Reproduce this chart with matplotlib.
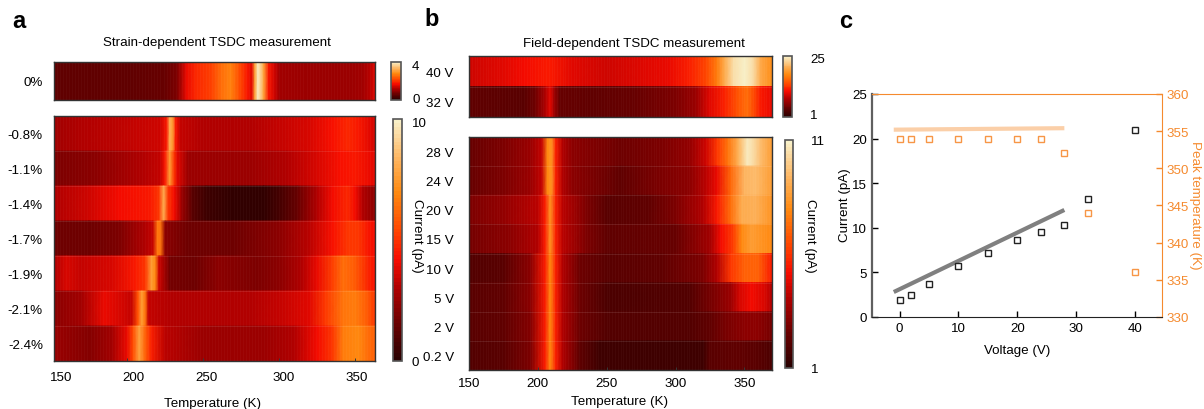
import numpy as np
import matplotlib
matplotlib.use('Agg')
import matplotlib.pyplot as plt
from matplotlib.colors import LinearSegmentedColormap, Normalize
from matplotlib.cm import ScalarMappable

plt.rcParams['font.family'] = ['Liberation Sans', 'DejaVu Sans']
plt.rcParams['font.size'] = 9.6

W, H = 1204, 410

# panel a, top strip (pA), temperature / current read at the visible features
a0_t = [152, 175, 200, 225, 233, 239, 245, 255, 262, 268, 274, 279, 282, 284, 286, 288, 290, 293, 297, 300, 320, 345, 355, 360, 363]
a0_i = [.55, .5, .55, .6, .8, 1.6, 1.9, 2.1, 2.5, 2.7, 2.2, 1.8, 1.5, 3.0, 3.9, 3.6, 3.0, 1.8, 1.4, 1.1, 1.0, 1.0, 1.1, 1.3, 1.5]

# panel a, bottom map, one row per strain
a08_t = [152, 170, 190, 205, 222, 226, 228, 230, 232, 235, 250, 280, 300, 320, 335, 345, 352, 360, 363]
a08_i = [2.8, 3.0, 3.2, 3.4, 3.5, 4.5, 8, 7.5, 4.5, 3.4, 3.0, 3.0, 3.3, 3.6, 4.3, 4.8, 4.4, 3.8, 3.5]
a11_t = [152, 180, 210, 222, 225, 228, 231, 233, 240, 280, 305, 325, 340, 350, 360, 363]
a11_i = [2.0, 2.3, 3, 3.4, 4.5, 7.5, 5, 3.8, 2.5, 2.5, 3, 3.6, 4.3, 4.5, 4, 3.8]
a14_t = [152, 175, 195, 215, 221, 224, 227, 231, 236, 243, 252, 270, 290, 300, 312, 325, 335, 345, 350, 355, 363]
a14_i = [3, 3.5, 4.2, 4.5, 5, 8, 5, 4.2, 2.5, 1.2, .5, .3, .3, .7, 1.5, 3, 4.2, 4.7, 4.2, 3, 2.3]
a17_t = [152, 175, 195, 212, 217, 220, 222, 225, 240, 270, 300, 320, 335, 345, 352, 358, 363]
a17_i = [1.6, 1.6, 2, 3, 3.4, 6.5, 6.5, 2.2, 1.6, 1.7, 2.2, 3.2, 4.3, 5, 5, 4.5, 4.2]
a19_t = [152, 160, 170, 190, 205, 212, 216, 218.5, 221, 228, 245, 260, 285, 300, 315, 325, 335, 342, 350, 358, 363]
a19_i = [3.0, 3.6, 3.3, 3.7, 4.4, 5, 7.5, 7, 3.5, 1.8, 1.7, 2.2, 2, 2.2, 3, 4, 5.3, 6.3, 5.8, 4.8, 4.3]
a21_t = [152, 170, 185, 195, 203, 207, 209.5, 212, 214, 230, 280, 300, 320, 330, 342, 350, 358, 363]
a21_i = [2.2, 2.8, 4, 3.6, 3.4, 5.5, 7.5, 6.5, 3.4, 3, 3, 3.3, 3.8, 5.0, 6.5, 6.7, 5.8, 5]
a24_t = [152, 175, 190, 200, 204, 208, 212, 216, 225, 250, 290, 310, 325, 335, 342, 352, 358, 363]
a24_i = [2.5, 2.1, 2.8, 4, 5.5, 7.8, 6, 4.6, 3.2, 2.5, 2.6, 3, 4.2, 5, 6.6, 6.9, 6.3, 6.0]
a_labels = ['-0.8%', '-1.1%', '-1.4%', '-1.7%', '-1.9%', '-2.1%', '-2.4%']

# panel b, top strip
b40_t = [150, 175, 190, 205, 210, 225, 250, 280, 295, 310, 322, 330, 335, 342, 350, 356, 362, 370]
b40_i = [9.5, 10, 11, 11.5, 11.5, 10, 9.5, 10, 10.5, 12, 14, 17, 20, 23.5, 25, 23.5, 20, 18]
b32_t = [150, 190, 198, 205, 209, 212, 216, 240, 270, 300, 315, 325, 335, 345, 352, 358, 362, 370]
b32_i = [4, 3.8, 5, 8, 10, 7, 4.5, 4, 4.5, 5.5, 7, 10, 12, 14.5, 16, 13.5, 11.5, 10.5]

# panel b, bottom map, one row per voltage
b28_t = [150, 175, 195, 203, 207, 210, 213, 218, 225, 260, 290, 310, 322, 330, 338, 345, 352, 356, 362, 370]
b28_i = [2.5, 3, 3.5, 4.4, 8, 8.2, 5.6, 4.0, 3.2, 2.6, 3, 3.4, 4.5, 6, 7.5, 9, 10.8, 10.5, 9.5, 8.5]
b24_t = [150, 175, 195, 203, 207, 210, 213, 218, 225, 260, 290, 310, 322, 330, 340, 350, 358, 370]
b24_i = [2.5, 3, 3.5, 4.4, 8, 8.2, 5.6, 4.0, 3.2, 2.4, 2.9, 3.3, 4.2, 5, 7.2, 9.3, 9.5, 8.5]
b20_t = [150, 175, 200, 205, 209, 213, 218, 235, 250, 280, 300, 320, 330, 340, 348, 358, 370]
b20_i = [3.0, 3.4, 4.2, 5.4, 8.2, 5.6, 4.2, 3, 2.2, 2.4, 3, 4, 5.4, 7.3, 9, 9.2, 8.2]
b15_t = [150, 180, 200, 205, 209, 213, 218, 235, 250, 300, 325, 333, 342, 348, 355, 370]
b15_i = [2.8, 3.2, 4.0, 5.4, 8.3, 5.6, 4.2, 3, 2.3, 2.5, 3.8, 5.2, 6.2, 8, 8.6, 8]
b10_t = [150, 175, 195, 205, 209, 213, 218, 230, 250, 290, 320, 330, 340, 350, 360, 370]
b10_i = [2, 2.2, 3.2, 5.4, 8, 5.6, 4, 2.6, 2.1, 2.3, 3, 4, 6, 7, 7, 5.5]
b5_t = [150, 175, 195, 205, 209, 213, 218, 230, 250, 310, 325, 340, 347, 355, 365, 370]
b5_i = [2.2, 2.3, 3.2, 5.4, 8, 5.6, 4, 2.6, 1.9, 2.0, 2.8, 3.6, 4.6, 5.2, 4.6, 4]
b2_t = [150, 175, 195, 205, 209, 213, 218, 230, 250, 310, 325, 335, 350, 360, 370]
b2_i = [2.2, 2.3, 3.1, 5.4, 8, 5.6, 4, 2.6, 2.0, 2, 2.4, 2.8, 3.2, 3.2, 2.8]
b02_t = [150, 175, 195, 205, 209, 213, 218, 230, 245, 280, 320, 325, 345, 360, 370]
b02_i = [2.0, 2.2, 3.0, 5.4, 8, 5.6, 4, 2.4, 1.5, 1.6, 1.5, 2.2, 2.4, 2.1, 1.8]
b_labels = ['28 V', '24 V', '20 V', '15 V', '10 V', '5 V', '2 V', '0.2 V']

# panel c
volt = [0, 2, 5, 10, 15, 20, 24, 28, 32, 40]
current = [1.9, 2.5, 3.7, 5.7, 7.2, 8.6, 9.5, 10.3, 13.2, 21]
peak_temp = [354, 354, 354, 354, 354, 354, 354, 352, 344, 336]
fit_v = [-1, 28]
fit_i = [2.8, 12]
fit_t = [355.2, 355.4]

cmap = LinearSegmentedColormap.from_list('tsdc', [
    (0, '#2a0000'), (.15, '#6a0000'), (.3, '#b00000'), (.42, '#f80c00'),
    (.55, '#ff4a00'), (.7, '#ff8a10'), (.85, '#fdb866'), (1, '#f8f0c8')], N=64)


def px_axes(fig, x0, y0, x1, y1):
    return fig.add_axes([x0 / W, 1 - y1 / H, (x1 - x0) / W, (y1 - y0) / H])


def draw_rows(ax, rows, norm, xlim):
    # first row on top
    n = len(rows)
    for i, (t, cur) in enumerate(rows):
        t = np.array(t, dtype=float)
        X = np.vstack([t, t])
        Y = np.vstack([np.full(len(t), n - i - 1), np.full(len(t), n - i)])
        C = np.vstack([cur, cur])
        ax.pcolormesh(X, Y, C, cmap=cmap, norm=norm, shading='gouraud', rasterized=True)
    # faint seams between cells, like the exported original
    ax.vlines(np.arange(xlim[0], xlim[1], 2.0), 0, n, color='white', lw=.5, alpha=.045)
    ax.hlines(np.arange(1, n), xlim[0], xlim[1], color='white', lw=.6, alpha=.12)
    ax.set_xlim(xlim)
    ax.set_ylim(0, n)
    for s in ax.spines.values():
        s.set_linewidth(1.0)
        s.set_color('#333333')


def row_labels(ax, labels, pad):
    n = len(labels)
    ax.set_yticks(np.arange(n) + .5)
    ax.set_yticklabels(labels[::-1])
    ax.tick_params(axis='y', length=0, pad=pad, labelsize=9.6)


def add_cbar(fig, box, norm, ticks, pad):
    cax = px_axes(fig, *box)
    cb = fig.colorbar(ScalarMappable(norm=norm, cmap=cmap), cax=cax)
    cb.set_ticks(ticks)
    cb.ax.tick_params(length=0, pad=pad, labelsize=9.6)
    cb.outline.set_linewidth(1.2)
    cb.outline.set_edgecolor('#555555')
    return cb


fig = plt.figure(figsize=(W / 100, H / 100), dpi=100)

# a
norm = Normalize(0, 4)
ax = px_axes(fig, 54, 63, 375, 101)
draw_rows(ax, [(a0_t, a0_i)], norm, (152, 363))
row_labels(ax, ['0%'], 8)
ax.set_xticks([])
add_cbar(fig, (391, 63, 401, 101), norm, [.3, 3.7], 8).ax.set_yticklabels(['0', '4'])

norm = Normalize(0, 10)
ax = px_axes(fig, 54, 117, 375, 362)
draw_rows(ax, [(a08_t, a08_i), (a11_t, a11_i), (a14_t, a14_i), (a17_t, a17_i),
               (a19_t, a19_i), (a21_t, a21_i), (a24_t, a24_i)], norm, (152, 363))
row_labels(ax, a_labels, 8)
# the labels of this axis sit a little off their tick marks in the original
ax.set_xticks([156.6, 204, 252, 303, 351])
ax.set_xticklabels(['150', '200', '250', '300', '350'])
ax.tick_params(axis='x', length=0, pad=7, labelsize=9.6)
ax.set_xticks([200, 250, 300, 350], minor=True)
ax.tick_params(axis='x', which='minor', direction='in', length=2.5, width=.7, color='#333333')
add_cbar(fig, (393, 120, 402, 362), norm, [0, 9.9], 7).ax.set_yticklabels(['0', '10'])

# b
norm = Normalize(1, 25)
ax = px_axes(fig, 469, 57, 772, 118)
draw_rows(ax, [(b40_t, b40_i), (b32_t, b32_i)], norm, (150, 370))
row_labels(ax, ['40 V', '32 V'], 11)
ax.set_xticks([])
add_cbar(fig, (783, 57, 792, 118), norm, [2.5, 24.5], 13).ax.set_yticklabels(['1', '25'])

norm = Normalize(1, 11)
ax = px_axes(fig, 469, 138, 772, 371)
draw_rows(ax, [(b28_t, b28_i), (b24_t, b24_i), (b20_t, b20_i), (b15_t, b15_i),
               (b10_t, b10_i), (b5_t, b5_i), (b2_t, b2_i), (b02_t, b02_i)], norm, (150, 370))
row_labels(ax, b_labels, 11)
ax.set_xticks([150, 200, 250, 300, 350])
ax.tick_params(axis='x', direction='in', length=2.5, width=.7, pad=5, labelsize=9.6, color='#333333')
add_cbar(fig, (785, 141, 793, 369), norm, [1, 11], 13)

# c
ax = px_axes(fig, 872, 95, 1162, 318)
ax.plot(fit_v, fit_i, color='#808080', lw=3, solid_capstyle='butt')
ax.plot(volt, current, ls='none', marker='s', ms=4.5, mfc='white', mec='#222222', mew=1)
ax.set_xlim(-4.7, 44.6)
ax.set_ylim(0, 25)
ax.set_xticks([0, 10, 20, 30, 40])
ax.set_yticks([0, 5, 10, 15, 20, 25])
ax.tick_params(direction='in', length=4, width=1, labelsize=9.6)
ax.set_xlabel('Voltage (V)', fontsize=9.6, labelpad=7)

ax2 = ax.twinx()
ax2.plot(fit_v, fit_t, color='#fbcfa8', lw=3, solid_capstyle='butt')
ax2.plot(volt, peak_temp, ls='none', marker='s', ms=4.5, mfc='white', mec='#f79646', mew=1)
ax2.set_ylim(330, 360)
ax2.set_yticks([330, 335, 340, 345, 350, 355, 360])
ax2.tick_params(axis='y', direction='in', length=4, width=1, colors='#f58a2e', labelsize=9.6)
ax2.spines['left'].set_color('#606060')
ax2.spines['left'].set_linewidth(1.6)
ax2.spines['top'].set_color('#f58a2e')
ax2.spines['right'].set_color('#f58a2e')
ax2.spines['bottom'].set_color('#222222')
for s in ax.spines.values():
    s.set_visible(False)


def label(x, y, s, **kw):
    fig.text(x / W, 1 - y / H, s, ha='center', va='center', **kw)


label(217, 43, 'Strain-dependent TSDC measurement', fontsize=9.6)
label(634, 44, 'Field-dependent TSDC measurement', fontsize=9.6)
label(213, 404, 'Temperature (K)', fontsize=9.6)
label(620, 402, 'Temperature (K)', fontsize=9.6)
label(417, 236, 'Current (pA)', rotation=-90, fontsize=9.6)
label(810, 236, 'Current (pA)', rotation=-90, fontsize=9.6)
label(845, 205, 'Current (pA)', rotation=90, fontsize=9.6)
label(1195, 205, 'Peak temperature (K)', rotation=-90, fontsize=9.6, color='#f58a2e')
label(19, 22, 'a', fontsize=17, fontweight='bold')
label(432, 20, 'b', fontsize=17, fontweight='bold')
label(846, 22, 'c', fontsize=17, fontweight='bold')

fig.savefig('out.png', dpi=100)
